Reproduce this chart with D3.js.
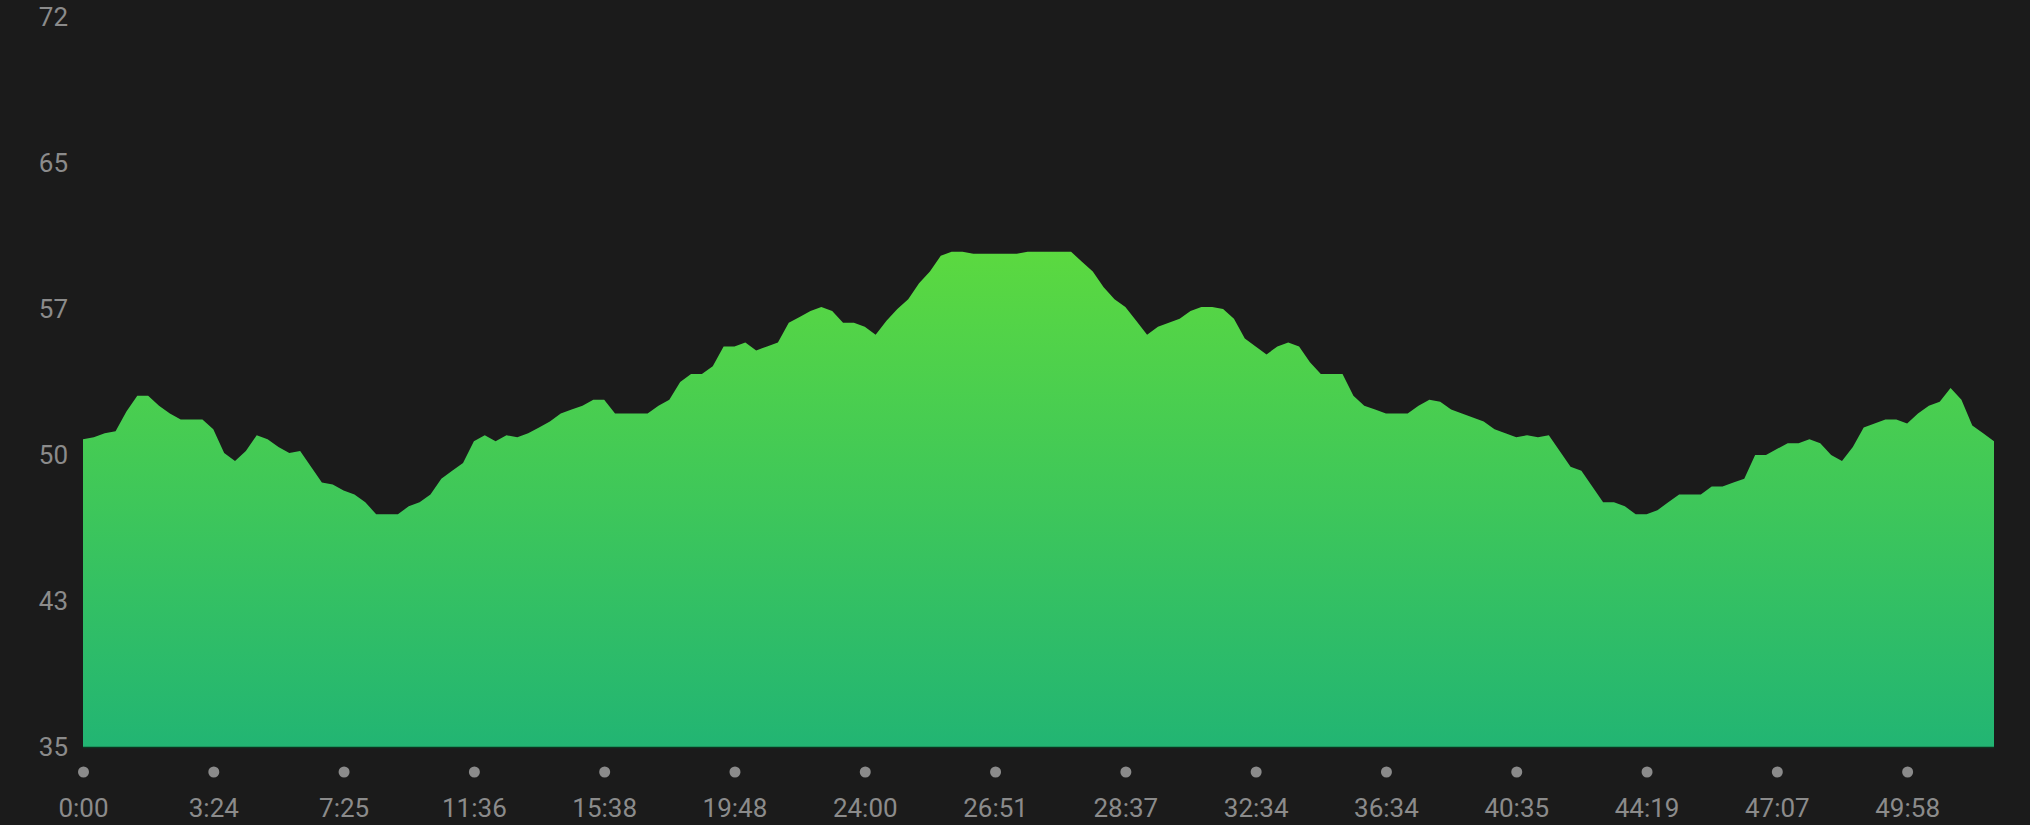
<!DOCTYPE html>
<html>
<head>
<meta charset="utf-8">
<script src="https://cdn.jsdelivr.net/npm/d3@7"></script>
<style>
  html, body { margin: 0; padding: 0; background: #1b1b1b; }
  #chart { width: 2030px; height: 825px; }
</style>
</head>
<body>
<div id="chart"></div>
<script>
"use strict"

// sampled values, one per step along the x axis
const values = [
  50.6, 50.7, 50.9, 51.0, 52.0, 52.8, 52.8, 52.3, 51.9, 51.6,
  51.6, 51.6, 51.1, 49.9, 49.5, 50.0, 50.8, 50.6, 50.2, 49.9,
  50.0, 49.2, 48.4, 48.3, 48.0, 47.8, 47.4, 46.8, 46.8, 46.8,
  47.2, 47.4, 47.8, 48.6, 49.0, 49.4, 50.5, 50.8, 50.5, 50.8,
  50.7, 50.9, 51.2, 51.5, 51.9, 52.1, 52.3, 52.6, 52.6, 51.9,
  51.9, 51.9, 51.9, 52.3, 52.6, 53.5, 53.9, 53.9, 54.3, 55.3,
  55.3, 55.5, 55.1, 55.3, 55.5, 56.5, 56.8, 57.1, 57.3, 57.1,
  56.5, 56.5, 56.3, 55.9, 56.6, 57.2, 57.7, 58.5, 59.1, 59.9,
  60.1, 60.1, 60.0, 60.0, 60.0, 60.0, 60.0, 60.1, 60.1, 60.1,
  60.1, 60.1, 59.6, 59.1, 58.3, 57.7, 57.3, 56.6, 55.9, 56.3,
  56.5, 56.7, 57.1, 57.3, 57.3, 57.2, 56.7, 55.7, 55.3, 54.9,
  55.3, 55.5, 55.3, 54.5, 53.9, 53.9, 53.9, 52.8, 52.3, 52.1,
  51.9, 51.9, 51.9, 52.3, 52.6, 52.5, 52.1, 51.9, 51.7, 51.5,
  51.1, 50.9, 50.7, 50.8, 50.7, 50.8, 50.0, 49.2, 49.0, 48.2,
  47.4, 47.4, 47.2, 46.8, 46.8, 47.0, 47.4, 47.8, 47.8, 47.8,
  48.2, 48.2, 48.4, 48.6, 49.8, 49.8, 50.1, 50.4, 50.4, 50.6,
  50.4, 49.8, 49.5, 50.2, 51.2, 51.4, 51.6, 51.6, 51.4, 51.9,
  52.3, 52.5, 53.2, 52.6, 51.3, 50.9, 50.5
];

const xTickIndexes = [0, 12, 24, 36, 48, 60, 72, 84, 96, 108, 120, 132, 144, 156, 168];
const xTickLabels = ["0:00", "3:24", "7:25", "11:36", "15:38", "19:48", "24:00", "26:51",
                     "28:37", "32:34", "36:34", "40:35", "44:19", "47:07", "49:58"];

const yTickValues = [35, 42.4, 49.8, 57.2, 64.6, 72];
const yTickLabels = ["35", "43", "50", "57", "65", "72"];

let margin = {top: 17, right: 36, bottom: 78, left: 83};
let width = 2030 - margin.left - margin.right,
    height = 825 - margin.top - margin.bottom;

let svg = d3.select("#chart")
  .append("svg")
  .attr("width", 2030)
  .attr("height", 825)
  .style("display", "block")
  .append("g")
  .attr("transform", "translate(" + margin.left + "," + margin.top + ")");

let x = d3.scaleLinear()
  .domain([0, values.length - 1])
  .range([0, width]);

let y = d3.scaleLinear()
  .domain([35, 72])
  .range([height, 0]);

let defs = svg.append("defs");
let grad = defs.append("linearGradient")
  .attr("id", "areaFill")
  .attr("x1", 0).attr("y1", 0)
  .attr("x2", 0).attr("y2", 1);
grad.append("stop").attr("offset", "0%").attr("stop-color", "#5bd940");
grad.append("stop").attr("offset", "100%").attr("stop-color", "#22b573");

let area = d3.area()
  .x(function(d, i) { return x(i); })
  .y0(y(35))
  .y1(function(d) { return y(d); });

svg.append("path")
  .datum(values)
  .attr("d", area)
  .attr("fill", "url(#areaFill)");

// thin dark edge under the area
svg.append("line")
  .attr("x1", x(0))
  .attr("x2", x(values.length - 1))
  .attr("y1", y(35) + 0.5)
  .attr("y2", y(35) + 0.5)
  .attr("stroke", "#0c3520")
  .attr("stroke-width", 1.5);

let yAxis = svg.append("g")
  .call(d3.axisLeft(y)
    .tickValues(yTickValues)
    .tickSize(0)
    .tickPadding(15)
    .tickFormat(function(d, i) { return yTickLabels[i]; }));
yAxis.select(".domain").remove();

let xAxis = svg.append("g")
  .attr("transform", "translate(0," + height + ")")
  .call(d3.axisBottom(x)
    .tickValues(xTickIndexes)
    .tickSize(0)
    .tickPadding(52)
    .tickFormat(function(d, i) { return xTickLabels[i]; }));
xAxis.select(".domain").remove();

xAxis.selectAll(".tick")
  .append("circle")
  .attr("cx", 0)
  .attr("cy", 25)
  .attr("r", 5.5)
  .attr("fill", "#8b8b8b");

svg.selectAll(".tick text")
  .style("font-family", "Roboto, sans-serif")
  .style("font-size", "26px")
  .attr("fill", "#8b8b8b");
</script>
</body>
</html>
